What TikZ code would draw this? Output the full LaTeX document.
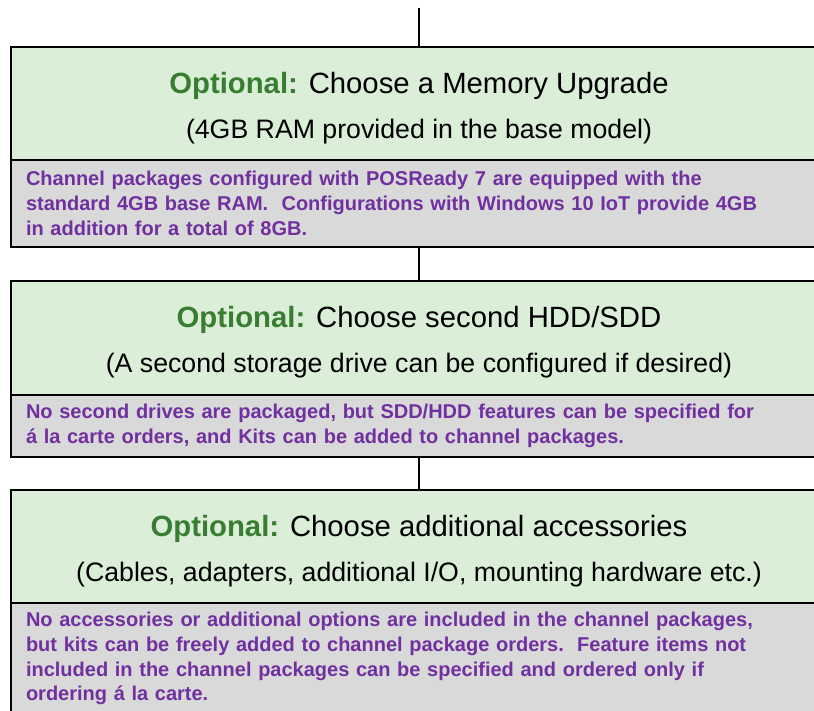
\documentclass[tikz,border=0pt]{standalone}
\RequirePackage{fontspec}
\RequirePackage{tikz}
\usetikzlibrary{positioning}
\setmainfont{Liberation Sans}
\definecolor{optgreen}{RGB}{56,125,50}
\definecolor{notepurple}{RGB}{112,48,160}
\definecolor{stepfill}{RGB}{218,238,216}
\definecolor{notefill}{RGB}{217,217,217}
\newcommand{\opttitle}[1]{{\fontsize{29.3}{45}\selectfont\rule{0pt}{30.5pt}{\color{optgreen}\bfseries Optional:} #1}}

\begin{document}
\begin{tikzpicture}[x=1pt,y=-1pt,
    stepbox/.style={draw,line width=1.5pt,fill=stepfill,minimum width=816pt,
        inner sep=0pt,outer sep=0pt,align=center,font=\fontsize{26.7}{45}\selectfont},
    notebox/.style={draw,line width=1.5pt,fill=notefill,text width=786pt,
        inner xsep=15pt,inner ysep=0pt,outer sep=0pt,align=left,text=notepurple,
        font=\bfseries\fontsize{20}{24.8}\selectfont},
    link/.style={line width=1.5pt}]
    \useasboundingbox (0,0) rectangle (814,711);
    \clip (0,0) rectangle (814,711);
    \coordinate (top) at (419,8);
    % memory
    \node[stepbox,minimum height=113pt,anchor=north west] (mem) at (11,47)
        {\opttitle{Choose a Memory Upgrade}\\(4GB RAM provided in the base model)};
    \node[notebox,minimum height=87pt,below=0pt of mem] (memnote)
        {Channel packages configured with POSReady 7 are equipped with the\\
         standard 4GB base RAM.~~Configurations with Windows 10 IoT provide 4GB\\
         in addition for a total of 8GB.};
    % second drive
    \node[stepbox,minimum height=114pt,below=34pt of memnote] (hdd)
        {\opttitle{Choose second HDD/SDD}\\(A second storage drive can be configured if desired)};
    \node[notebox,minimum height=62pt,below=0pt of hdd] (hddnote)
        {No second drives are packaged, but SDD/HDD features can be specified for\\
         á la carte orders, and Kits can be added to channel packages.};
    % accessories
    \node[stepbox,minimum height=113pt,below=33pt of hddnote] (acc)
        {\opttitle{Choose additional accessories}\\(Cables, adapters, additional I/O, mounting hardware etc.)};
    \node[notebox,minimum height=111pt,below=0pt of acc] (accnote)
        {No accessories or additional options are included in the channel packages,\\
         but kits can be freely added to channel package orders.~~Feature items not\\
         included in the channel packages can be specified and ordered only if\\
         ordering á la carte.};
    \draw[link] (top) -- (mem.north);
    \draw[link] (memnote.south) -- (hdd.north);
    \draw[link] (hddnote.south) -- (acc.north);
\end{tikzpicture}
\end{document}
